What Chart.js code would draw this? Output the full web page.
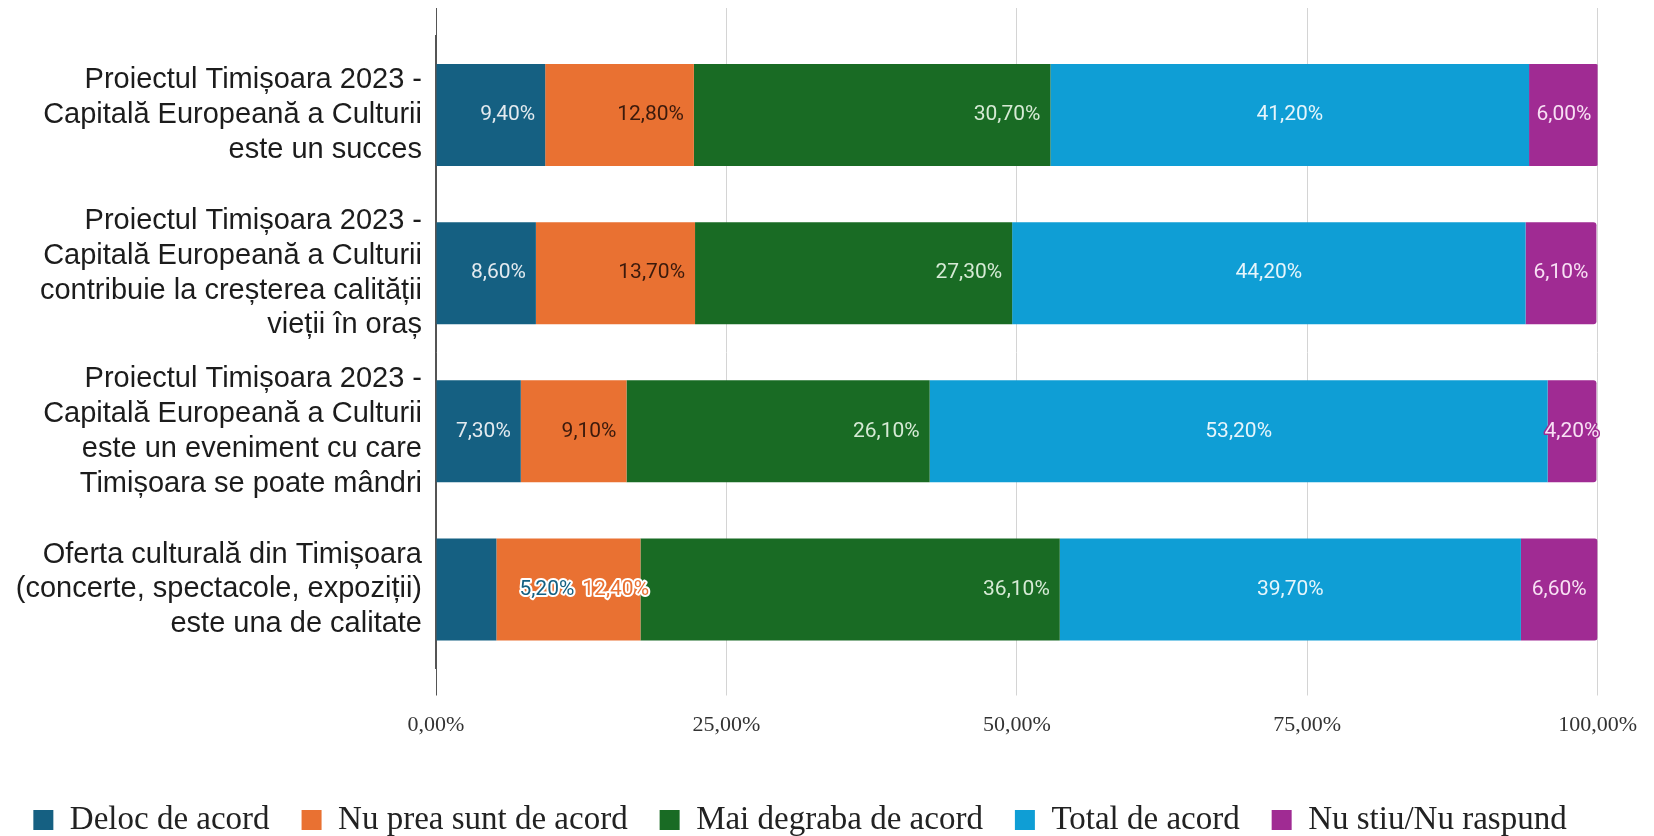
<!DOCTYPE html>
<html>
<head>
<meta charset="utf-8">
<script src="https://cdn.jsdelivr.net/npm/chart.js@4.4.0/dist/chart.umd.min.js"></script>
<style>
  body { margin: 0; background: #ffffff; }
  canvas { display: block; }
</style>
</head>
<body>
<canvas id="barChart" width="1654" height="836"></canvas>
<script>
//Categories (one per bar row)
var categories = [
  ["Proiectul Timișoara 2023 -", "Capitală Europeană a Culturii", "este un succes"],
  ["Proiectul Timișoara 2023 -", "Capitală Europeană a Culturii", "contribuie la creșterea calității", "vieții în oraș"],
  ["Proiectul Timișoara 2023 -", "Capitală Europeană a Culturii", "este un eveniment cu care", "Timișoara se poate mândri"],
  ["Oferta culturală din Timișoara", "(concerte, spectacole, expoziții)", "este una de calitate"]
];

//Series names
var seriesNames = ["Deloc de acord", "Nu prea sunt de acord", "Mai degraba de acord", "Total de acord", "Nu stiu/Nu raspund"];

//Series values (percent)
var delocDeAcord = [9.4, 8.6, 7.3, 5.2];
var nuPreaSuntDeAcord = [12.8, 13.7, 9.1, 12.4];
var maiDegrabaDeAcord = [30.7, 27.3, 26.1, 36.1];
var totalDeAcord = [41.2, 44.2, 53.2, 39.7];
var nuStiu = [6.0, 6.1, 4.2, 6.6];

//Tick values on the percent axis
var xTicks = [0, 25, 50, 75, 100];

var seriesValues = [delocDeAcord, nuPreaSuntDeAcord, maiDegrabaDeAcord, totalDeAcord, nuStiu];
var seriesColors = ["#156082", "#e97132", "#196b24", "#0f9ed5", "#a02b93"];
var labelColors = ["#e3eaef", "#3b1a0c", "#d6ead5", "#e6f5fb", "#f8e0f4"];
var labelAnchor = ["end", "end", "end", "center", "center"];

function pct(v){
  return v.toFixed(2).replace(".", ",") + "%";
}

function setTicks(scale){
  scale.ticks = xTicks.map(function(v){ return {value: v}; });
}

function gridColor(ctx){
  if(ctx.tick && ctx.tick.value === 0){ return "#555555"; }
  return "#d4d4d4";
}

//Data labels drawn on top of the bars
var barLabels = {
  id: "barLabels",
  afterDatasetsDraw: function(chart){
    var ctx = chart.ctx;
    ctx.save();
    ctx.font = "21px Roboto, 'Liberation Sans', sans-serif";
    ctx.textBaseline = "middle";
    ctx.textAlign = "left";
    ctx.lineJoin = "round";
    for(var i = 0; i < categories.length; i++){
      var prevRight = -Infinity;
      for(var d = 0; d < chart.data.datasets.length; d++){
        var bar = chart.getDatasetMeta(d).data[i];
        var p = bar.getProps(["x", "y", "base"], true);
        var left = Math.min(p.x, p.base);
        var right = Math.max(p.x, p.base);
        var text = pct(chart.data.datasets[d].data[i]);
        var w = ctx.measureText(text).width;
        var barW = right - left;
        var x0;
        var halo = false;
        if(labelAnchor[d] == "end"){
          if(w + 16 > barW){
            x0 = right + 23;
            halo = true;
          } else {
            x0 = right - 10 - w;
          }
        } else {
          x0 = (left + right) / 2 - w / 2;
        }
        if(d > 0 && x0 < prevRight + 8){
          x0 = prevRight + 8;
          halo = true;
        }
        if(halo){
          ctx.lineWidth = 4;
          ctx.strokeStyle = "#ffffff";
          ctx.strokeText(text, x0, p.y);
          ctx.fillStyle = seriesColors[d];
        } else if(w > barW){
          ctx.lineWidth = 3;
          ctx.strokeStyle = seriesColors[d];
          ctx.strokeText(text, x0, p.y);
          ctx.fillStyle = labelColors[d];
        } else {
          ctx.fillStyle = labelColors[d];
        }
        ctx.fillText(text, x0, p.y);
        prevRight = x0 + w;
      }
    }
    ctx.restore();
  }
};

function initChart(){
  var datasets = [];
  for(var s = 0; s < seriesNames.length; s++){
    datasets.push({
      label: seriesNames[s],
      data: seriesValues[s],
      backgroundColor: seriesColors[s],
      borderWidth: 0,
      borderRadius: s == seriesNames.length - 1 ? 3 : 0,
      categoryPercentage: 1.0,
      barPercentage: 0.645
    });
  }

  var ctxB = document.getElementById("barChart").getContext("2d");
  var myBarChart = new Chart(ctxB, {
    type: "bar",
    data: {
      labels: categories,
      datasets: datasets
    },
    plugins: [barLabels],
    options: {
      indexAxis: "y",
      responsive: false,
      animation: false,
      devicePixelRatio: 1,
      layout: {padding: {top: 8, right: 54, bottom: -10.5, left: 0}},
      plugins: {
        tooltip: {enabled: false},
        legend: {
          position: "bottom",
          labels: {
            boxWidth: 20,
            boxHeight: 20,
            padding: 32,
            color: "#222222",
            font: {family: "'Liberation Serif', 'Times New Roman', serif", size: 33}
          }
        }
      },
      scales: {
        x: {
          stacked: true,
          min: 0,
          max: 100,
          afterBuildTicks: setTicks,
          afterFit: function(scale){ scale.height = 103; },
          border: {display: false},
          grid: {color: gridColor, tickLength: 27},
          ticks: {
            padding: 17,
            color: "#333333",
            font: {family: "'Liberation Serif', 'Times New Roman', serif", size: 22},
            callback: function(v){ return pct(v); }
          }
        },
        x2: {
          type: "linear",
          position: "top",
          min: 0,
          max: 100,
          afterBuildTicks: setTicks,
          afterFit: function(scale){ scale.height = 28; scale.paddingLeft = 0; scale.paddingRight = 0; },
          border: {display: false},
          grid: {color: gridColor, drawOnChartArea: false, tickLength: 28},
          ticks: {display: false}
        },
        y: {
          stacked: true,
          afterFit: function(scale){
            scale.width = 436;
            scale.paddingTop = 0;
            scale.paddingBottom = 0;
          },
          grid: {display: false, drawTicks: false},
          border: {display: true, color: "#555555", width: 1.5},
          ticks: {
            padding: 14,
            color: "#1c1c1c",
            font: {family: "'Liberation Sans', Arial, sans-serif", size: 29, lineHeight: 1.2}
          }
        }
      }
    }
  });
}

window.onload = initChart;
</script>
</body>
</html>
